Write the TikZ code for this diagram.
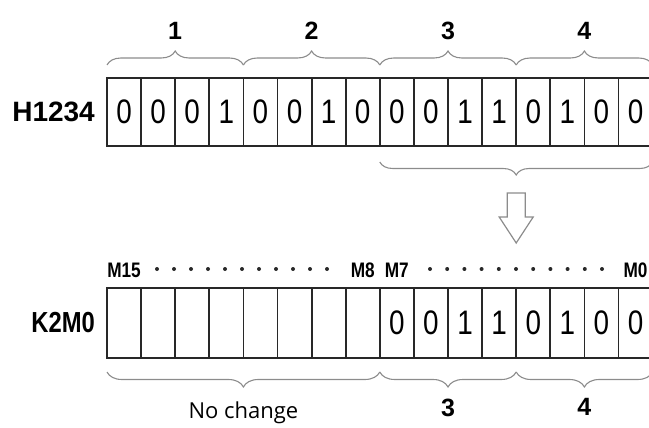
\documentclass[tikz,border=0pt]{standalone}
\usepackage{fontspec}
\setmainfont{Liberation Sans}
\newfontfamily\narrowfont{Liberation Sans}[FakeStretch=0.82]
\newfontfamily\notefont{Open Sans}
\usetikzlibrary{
    positioning,
    decorations.pathreplacing
}
\definecolor{cellLine}{RGB}{40,40,40}
\definecolor{braceGray}{RGB}{140,140,140}
\tikzset{
  cell/.style    = {draw=cellLine, line width=1.8pt, minimum width=34.1pt,
                    inner sep=0pt, outer sep=0pt,
                    font=\narrowfont\fontsize{34}{34}\selectfont},
  topcell/.style = {cell, minimum height=68pt},
  botcell/.style = {cell, minimum height=70pt},
  regname/.style = {inner sep=0pt, font=\bfseries\fontsize{28}{28}\selectfont},
  bitname/.style = {inner sep=0pt, font=\narrowfont\bfseries\fontsize{21}{21}\selectfont},
  grpname/.style = {inner sep=0pt, font=\bfseries\fontsize{25}{25}\selectfont},
  gbrace/.style  = {decorate, decoration={brace, amplitude=14pt},
                    draw=braceGray, line width=1.1pt},
  hollow/.style  = {draw=braceGray, line width=1.2pt, line join=miter}
}

\begin{document}
\begin{tikzpicture}[x=1pt, y=-1pt]
  \useasboundingbox (0,0) rectangle (649,428);

  % source word
  \foreach \b [count=\i] in {0,0,0,1,0,0,1,0,0,0,1,1,0,1,0,0}
    \node[topcell] (t\i) at ({107+(\i-0.5)*34.1},112) {\b};
  \node[regname, left=12pt of t1] (hsrc) {H1234};

  % nibble braces
  \draw[gbrace] ([yshift=13pt]t1.north west) -- ([yshift=13pt]t4.north east)
    node[grpname, midway, above=25pt] (g1) {1};
  \draw[gbrace] ([yshift=13pt]t5.north west) -- ([yshift=13pt]t8.north east)
    node[grpname, midway, above=25pt] (g2) {2};
  \draw[gbrace] ([yshift=13pt]t9.north west) -- ([yshift=13pt]t12.north east)
    node[grpname, midway, above=25pt] (g3) {3};
  \draw[gbrace] ([yshift=13pt]t13.north west) -- ([yshift=13pt]t16.north east)
    node[grpname, midway, above=25pt] (g4) {4};
  \draw[gbrace, decoration={amplitude=13pt}]
    ([yshift=-16pt]t16.south east) -- ([yshift=-16pt]t9.south west);

  % transfer arrow
  \coordinate (arr) at ([yshift=-47pt]t12.south east);
  \draw[hollow] ([xshift=-9pt]arr) -- ++(0,24) -- ++(-8,0) -- ++(17,26)
    -- ++(17,-26) -- ++(-8,0) -- ++(0,-24) -- cycle;

  % destination word
  \foreach \b [count=\i] in {{},{},{},{},{},{},{},{},0,0,1,1,0,1,0,0}
    \node[botcell] (b\i) at ({107+(\i-0.5)*34.1},323) {\b};
  \node[regname, font=\narrowfont\bfseries\fontsize{29}{29}\selectfont,
        left=12pt of b1] (kdst) {K2M0};

  \node[bitname, above=10pt of b1] (m15) {M15};
  \node[bitname, above=10pt of b8] (m8) {M8};
  \node[bitname, above=10pt of b9] (m7) {M7};
  \node[bitname, above=10pt of b16] (m0) {M0};
  \foreach \k in {0,...,10} {
    \fill[cellLine] ({157+17*\k},269) circle (2);
    \fill[cellLine] ({430+17.2*\k},269) circle (2);
  }

  \draw[gbrace, decoration={amplitude=15pt}]
    ([yshift=-14pt]b8.south east) -- ([yshift=-14pt]b1.south west)
    node[midway, below=29pt, inner sep=0pt,
         font=\notefont\fontsize{22}{22}\selectfont] (keep) {No change};
  \draw[gbrace, decoration={amplitude=15pt}]
    ([yshift=-14pt]b12.south east) -- ([yshift=-14pt]b9.south west)
    node[grpname, midway, below=26pt] (n3) {3};
  \draw[gbrace, decoration={amplitude=15pt}]
    ([yshift=-14pt]b16.south east) -- ([yshift=-14pt]b13.south west)
    node[grpname, midway, below=26pt] (n4) {4};
\end{tikzpicture}
\end{document}
